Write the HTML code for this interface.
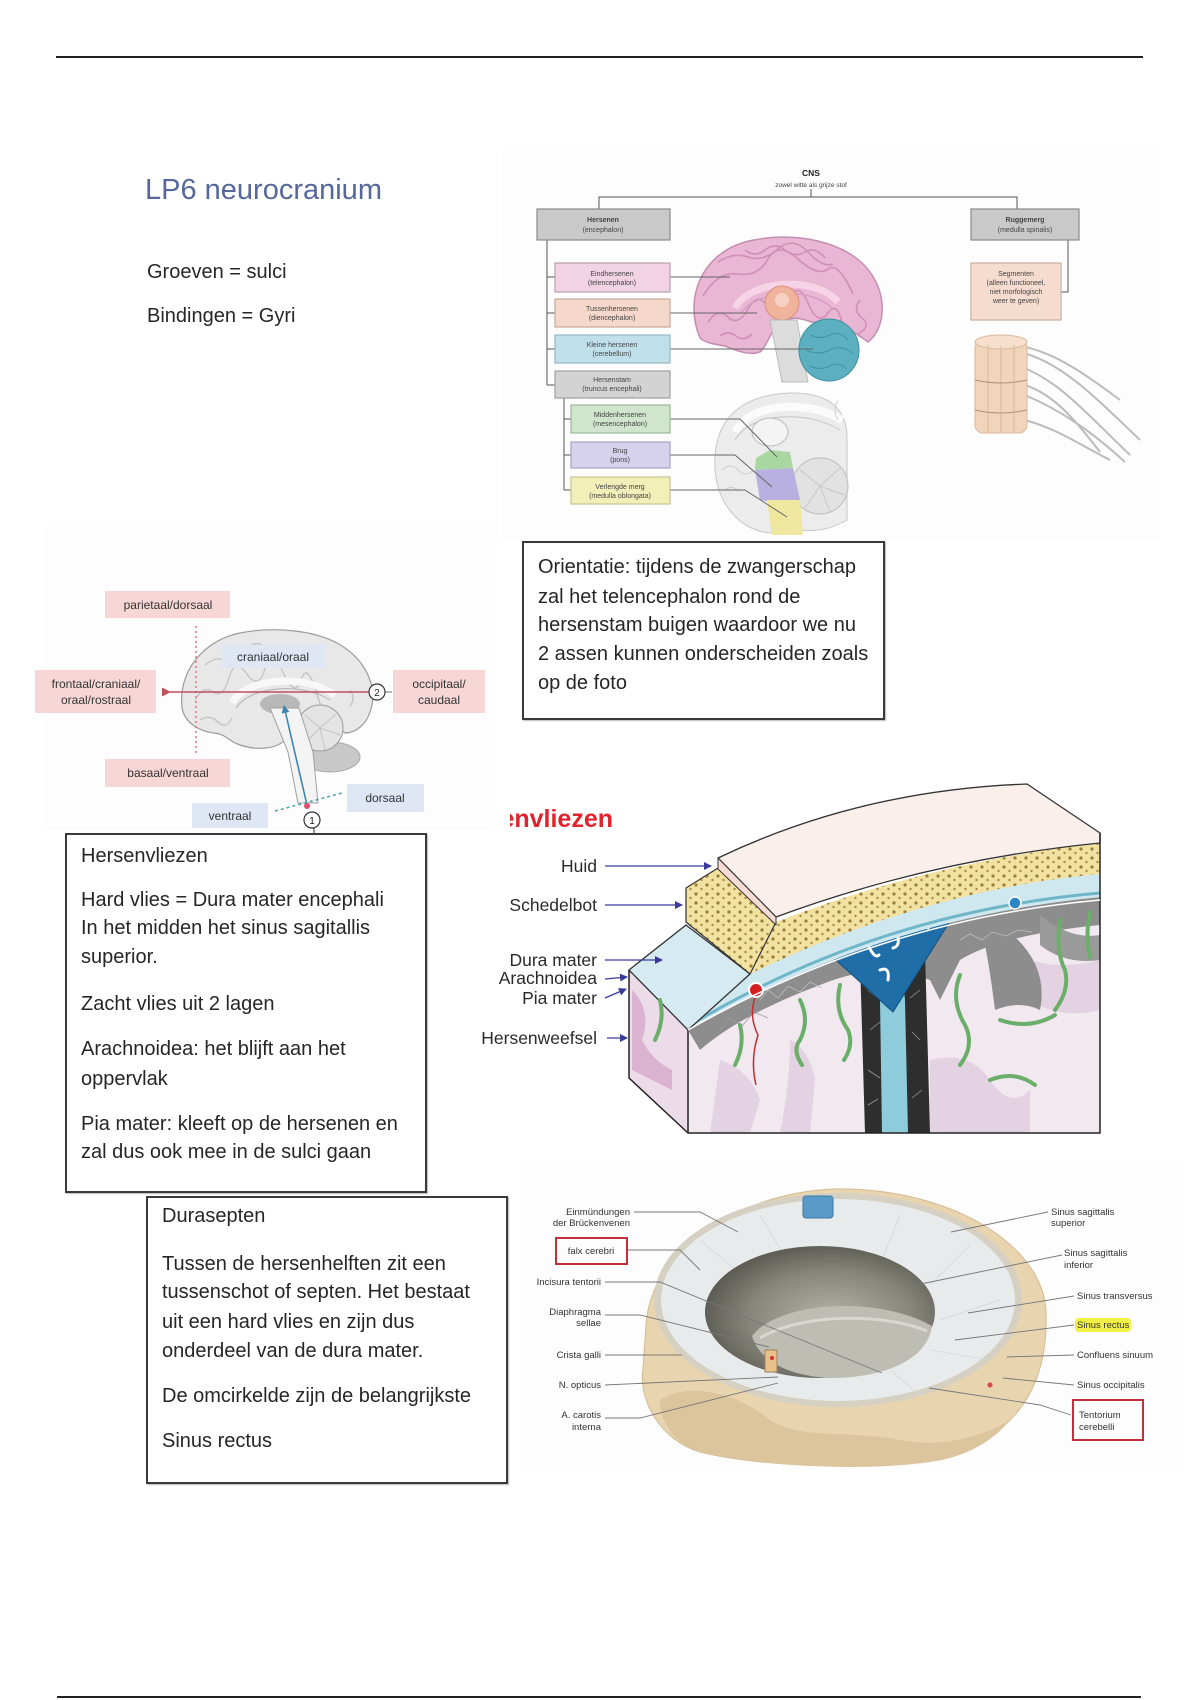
<!DOCTYPE html>
<html>
<head>
<meta charset="utf-8">
<style>
  html,body{margin:0;padding:0;background:#fff;}
  body{width:1200px;height:1700px;position:relative;overflow:hidden;font-family:"Liberation Sans",sans-serif;color:#262626;}
  .t{position:absolute;white-space:nowrap;font-size:20px;line-height:29px;}
  .box{position:absolute;border:2px solid #3a3a3a;background:#fff;box-sizing:border-box;box-shadow:1px 1px 1px #bbb;}
  .lbl{position:absolute;white-space:nowrap;font-size:17.5px;line-height:18px;color:#2a2a2a;text-align:right;}
</style>
</head>
<body>

<svg width="1200" height="1700" style="position:absolute;left:0;top:0" xmlns="http://www.w3.org/2000/svg" font-family="Liberation Sans, sans-serif">
  <defs>
    <pattern id="bone" width="11" height="9" patternUnits="userSpaceOnUse">
      <rect width="11" height="9" fill="#f2e2a2"/>
      <circle cx="3" cy="3" r="1.6" fill="#9a7d38"/>
      <circle cx="8.5" cy="7" r="1.2" fill="#a88a45"/>
    </pattern>
    <radialGradient id="hole" cx="0.55" cy="0.55" r="0.6">
      <stop offset="0" stop-color="#b4b4aa"/>
      <stop offset="0.6" stop-color="#85857b"/>
      <stop offset="1" stop-color="#55554d"/>
    </radialGradient>
    <marker id="arrB" markerWidth="8" markerHeight="8" refX="7" refY="4" orient="auto" markerUnits="userSpaceOnUse">
      <path d="M0,0 L8,4 L0,8 Z" fill="#3a3a9a"/>
    </marker>
    <marker id="arrR" markerWidth="9" markerHeight="9" refX="1" refY="4.5" orient="auto" markerUnits="userSpaceOnUse">
      <path d="M9,0 L0,4.5 L9,9 Z" fill="#c0505e"/>
    </marker>
    <marker id="arrBl" markerWidth="8" markerHeight="8" refX="7" refY="4" orient="auto" markerUnits="userSpaceOnUse">
      <path d="M0,0 L8,4 L0,8 Z" fill="#3e86b0"/>
    </marker>
  </defs>

  <!-- page rules -->
  <rect x="56" y="56" width="1087" height="2" fill="#222"/>
  <rect x="57" y="1696" width="1084" height="2" fill="#222"/>

  <!-- faint image backgrounds -->
  <rect x="502" y="146" width="659" height="395" fill="#fdfdfd"/>
  <rect x="43" y="526" width="451" height="305" fill="#fdfdfd"/>
  <rect x="521" y="1166" width="662" height="300" fill="#fdfdfd"/>

  <!-- ================= CNS diagram ================= -->
  <g>
    <path d="M700,338 C684,300 700,255 745,242 C790,230 850,240 872,275 C888,300 884,330 868,342 C860,336 848,328 838,325 L812,322 C800,318 792,316 782,322 C770,330 768,345 760,352 C748,356 735,350 725,346 C712,344 704,342 700,338 Z" fill="#e9b6d4" stroke="#c58db0" stroke-width="1.5"/>
    <g fill="none" stroke="#cf8fb6" stroke-width="1.6">
      <path d="M708,322 q10,-15 20,-5 t20,-8 t20,-2 t20,-6 t20,2 t20,10 t15,15"/>
      <path d="M703,296 q15,-25 35,-22 t30,-15 t30,0 t30,10 t25,25"/>
      <path d="M718,262 q15,-10 30,-5 t30,-8 t30,3 t25,12"/>
      <path d="M745,250 q10,8 20,0 t20,0 t20,2 t20,6"/>
      <path d="M860,300 q-8,10 2,18 t-4,16"/>
      <path d="M720,336 q8,-6 16,0 t16,-2"/>
    </g>
    <path d="M735,308 C750,280 815,275 838,302" fill="none" stroke="#f6d4e6" stroke-width="7"/>
    <path d="M742,312 C758,290 812,287 832,308" fill="none" stroke="#d59bbd" stroke-width="1.2"/>
    <circle cx="782" cy="303" r="17" fill="#f0b39c" stroke="#d88f7c"/>
    <circle cx="782" cy="300" r="7" fill="#f6d0c2"/>
    <polygon points="770,320 797,320 808,382 782,382" fill="#dcdcdc" stroke="#bdbdbd"/>
    <ellipse cx="829" cy="350" rx="30" ry="31" fill="#5cafbf" stroke="#3d8fa0"/>
    <g stroke="#3f93a4" stroke-width="1" fill="none">
      <path d="M810,335 q10,5 20,0 t18,5"/><path d="M806,350 q12,6 24,0 t24,4"/><path d="M810,366 q10,5 20,0 t16,3"/>
    </g>

    <!-- brainstem inset -->
    <path d="M715,470 C712,420 740,395 790,393 C830,392 848,410 847,440 L847,520 C830,530 815,532 800,530 L770,533 C740,530 718,505 715,470 Z" fill="#ececec" stroke="#c8c8c8"/>
    <path d="M735,432 C750,402 810,400 842,420" fill="none" stroke="#fbfbfb" stroke-width="8"/>
    <path d="M735,440 C750,412 808,410 840,430" fill="none" stroke="#c4c4c4" stroke-width="1"/>
    <ellipse cx="770" cy="432" rx="18" ry="14" fill="#f4f4f4" stroke="#bbb"/>
    <g fill="none" stroke="#cfcfcf" stroke-width="1"><path d="M722,470 q8,-8 16,0 t16,0"/><path d="M725,490 q8,-6 14,2"/><path d="M838,400 q-6,10 0,20"/></g>
    <circle cx="820" cy="486" r="28" fill="#e2e2e2" stroke="#bbb"/>
    <g stroke="#c8c8c8" stroke-width="1"><path d="M820,486 L800,470 M820,486 L840,468 M820,486 L845,495 M820,486 L805,508 M820,486 L830,512"/></g>
    <polygon points="756,458 770,450 790,452 793,468 755,470" fill="#a8d8a0"/>
    <polygon points="755,470 793,468 800,500 790,505 760,500" fill="#b8b0e0"/>
    <polygon points="767,500 800,500 803,535 772,535" fill="#efe6a0"/>

    <!-- spinal cord -->
    <g fill="none" stroke="#bcbcbc" stroke-width="2">
      <path d="M1015,345 C1050,350 1080,370 1120,400"/>
      <path d="M1020,352 C1060,362 1090,392 1140,440"/>
      <path d="M1022,367 C1060,382 1085,412 1130,455"/>
      <path d="M1025,395 C1060,410 1090,430 1125,462"/>
      <path d="M1025,420 C1060,430 1080,445 1110,460"/>
      <path d="M1025,385 C1055,395 1075,420 1100,452"/>
    </g>
    <rect x="975" y="340" width="52" height="93" rx="8" fill="#f1d4bc" stroke="#dcb89c"/>
    <ellipse cx="1001" cy="342" rx="26" ry="7" fill="#f6dfcc" stroke="#dcb89c"/>
    <g stroke="#e0bca0" stroke-width="1.2"><path d="M988,345 V433 M1001,346 V433 M1014,345 V433"/></g>
    <g fill="none" stroke="#b0907c" stroke-width="1"><path d="M975,380 Q1001,386 1027,380"/><path d="M975,410 Q1001,416 1027,410"/></g>

    <!-- connectors -->
    <g fill="none" stroke="#555" stroke-width="1">
      <path d="M811,189 V197 M599,209 V197 H1017 V209"/>
      <path d="M547,240 V385 M547,277 H555 M547,313 H555 M547,349 H555 M547,385 H555"/>
      <path d="M564,398 V490 M564,419 H571 M564,455 H571 M564,490 H571"/>
      <path d="M1068,240 V292 H1061"/>
    </g>
    <g fill="none" stroke="#666" stroke-width="1">
      <path d="M670,277 H730"/><path d="M670,313 H757"/><path d="M670,349 H813"/>
      <path d="M670,419 L740,419 L777,457"/><path d="M670,455 L735,455 L772,487"/><path d="M670,490 L745,490 L787,517"/>
    </g>

    <!-- boxes -->
    <g stroke-width="1.2">
      <rect x="537" y="209" width="133" height="31" fill="#c9c9c9" stroke="#8a8a8a"/>
      <rect x="971" y="209" width="108" height="31" fill="#c9c9c9" stroke="#8a8a8a"/>
      <rect x="555" y="263" width="115" height="29" fill="#f1d3e4" stroke="#b9a0b0"/>
      <rect x="555" y="299" width="115" height="28" fill="#f6d8cb" stroke="#c8aa9c"/>
      <rect x="555" y="335" width="115" height="28" fill="#bfe0ea" stroke="#95b8c2"/>
      <rect x="555" y="371" width="115" height="27" fill="#d3d3d3" stroke="#a0a0a0"/>
      <rect x="571" y="405" width="99" height="28" fill="#cfe6cc" stroke="#9cb898"/>
      <rect x="571" y="442" width="99" height="26" fill="#d6d2ee" stroke="#a8a2c8"/>
      <rect x="571" y="477" width="99" height="27" fill="#f2f0b8" stroke="#c8c490"/>
      <rect x="971" y="263" width="90" height="57" fill="#f6dccf" stroke="#c8b0a0"/>
    </g>
    <g font-size="7" fill="#444" text-anchor="middle">
      <text x="811" y="176" font-size="8.5" font-weight="bold" fill="#222">CNS</text>
      <text x="811" y="187" font-size="6.5">zowel witte als grijze stof</text>
      <text x="603" y="222" font-weight="bold">Hersenen</text><text x="603" y="232">(encephalon)</text>
      <text x="1025" y="222" font-weight="bold">Ruggemerg</text><text x="1025" y="232">(medulla spinalis)</text>
      <text x="612" y="276">Eindhersenen</text><text x="612" y="285">(telencephalon)</text>
      <text x="612" y="311">Tussenhersenen</text><text x="612" y="320">(diencephalon)</text>
      <text x="612" y="347">Kleine hersenen</text><text x="612" y="356">(cerebellum)</text>
      <text x="612" y="382">Hersenstam</text><text x="612" y="391">(truncus encephali)</text>
      <text x="620" y="417">Middenhersenen</text><text x="620" y="426">(mesencephalon)</text>
      <text x="620" y="453">Brug</text><text x="620" y="462">(pons)</text>
      <text x="620" y="489">Verlengde merg</text><text x="620" y="498">(medulla oblongata)</text>
      <text x="1016" y="276">Segmenten</text><text x="1016" y="285">(alleen functioneel,</text>
      <text x="1016" y="294">niet morfologisch</text><text x="1016" y="303">weer te geven)</text>
    </g>
  </g>

  <!-- ================= Orientation diagram ================= -->
  <g>
    <ellipse cx="330" cy="757" rx="30" ry="15" fill="#c8c8c8" stroke="#a8a8a8"/>
    <path d="M182,707 C178,670 205,640 240,633 C275,626 320,630 345,648 C368,664 378,690 370,712 C366,725 355,733 345,733 L330,720 C315,712 300,712 290,718 L285,740 C275,750 255,750 240,745 C228,741 226,734 214,733 C198,731 184,722 182,707 Z" fill="#e8e8e8" stroke="#9c9c9c" stroke-width="1.2"/>
    <g fill="none" stroke="#c2c2c2" stroke-width="1.3">
      <path d="M195,700 q8,-15 18,-8 t16,-14 t18,-4 t18,-6 t18,4 t18,8 t16,14 t10,12"/>
      <path d="M205,665 q12,-10 22,-4 t20,-10 t22,2 t20,8"/>
      <path d="M200,720 q10,-6 18,2 t14,-4"/>
      <path d="M350,690 q6,8 0,16"/>
    </g>
    <path d="M232,703 C245,678 305,673 335,695" fill="none" stroke="#f8f8f8" stroke-width="7"/>
    <path d="M236,708 C250,686 302,682 330,700" fill="none" stroke="#b0b0b0" stroke-width="1"/>
    <ellipse cx="280" cy="704" rx="20" ry="10" fill="#b8b8b8"/>
    <circle cx="320" cy="728" r="23" fill="#e4e4e4" stroke="#9c9c9c"/>
    <g stroke="#c4c4c4"><path d="M320,728 L305,715 M320,728 L336,714 M320,728 L340,735 M320,728 L306,742 M320,728 L325,750"/></g>
    <path d="M270,708 L299,708 L313,752 L318,803 L298,803 L288,752 Z" fill="#f4f4f4" stroke="#a0a0a0"/>

    <line x1="196" y1="626" x2="196" y2="753" stroke="#e07a88" stroke-width="1.6" stroke-dasharray="2,3"/>
    <line x1="369" y1="692" x2="170" y2="692" stroke="#c0505e" stroke-width="1.5" marker-end="url(#arrR)"/>
    <line x1="385" y1="692" x2="392" y2="692" stroke="#777" stroke-width="1"/>
    <line x1="307" y1="805" x2="284" y2="706" stroke="#3e86b0" stroke-width="1.6" marker-end="url(#arrBl)"/>
    <line x1="275" y1="811" x2="342" y2="793" stroke="#4aa0a8" stroke-width="1.5" stroke-dasharray="3,3"/>
    <circle cx="307" cy="806" r="3" fill="#e0506a"/>
    <circle cx="377" cy="692" r="8" fill="#fff" stroke="#333" stroke-width="1.2"/>
    <text x="377" y="696" font-size="10" text-anchor="middle" fill="#222">2</text>
    <circle cx="312" cy="820" r="8" fill="#fff" stroke="#333" stroke-width="1.2"/>
    <text x="312" y="824" font-size="10" text-anchor="middle" fill="#222">1</text>
    <line x1="314" y1="828" x2="314" y2="834" stroke="#333"/>

    <rect x="105" y="591" width="125" height="27" fill="#f7d7d6"/>
    <rect x="222" y="645" width="103" height="23" fill="#dfe6f4"/>
    <rect x="35" y="670" width="121" height="43" fill="#f7d7d6"/>
    <rect x="393" y="670" width="92" height="43" fill="#f7d7d6"/>
    <rect x="105" y="759" width="125" height="28" fill="#f7d7d6"/>
    <rect x="347" y="784" width="77" height="28" fill="#dfe6f4"/>
    <rect x="192" y="803" width="76" height="25" fill="#dfe6f4"/>
    <g font-size="12" fill="#333" text-anchor="middle">
      <text x="168" y="609">parietaal/dorsaal</text>
      <text x="273" y="661">craniaal/oraal</text>
      <text x="96" y="688">frontaal/craniaal/</text>
      <text x="96" y="704">oraal/rostraal</text>
      <text x="439" y="688">occipitaal/</text>
      <text x="439" y="704">caudaal</text>
      <text x="168" y="777">basaal/ventraal</text>
      <text x="385" y="802">dorsaal</text>
      <text x="230" y="820">ventraal</text>
    </g>
  </g>

  <!-- ================= Meninges block ================= -->
  <g stroke-linejoin="round">
    <path d="M688,1030 Q880,920 1100,900 L1100,1133 L688,1133 Z" fill="#f1e8f0"/>
    <g fill="#e3d3e2">
      <path d="M720,1060 q30,10 40,40 l-10,33 l-40,0 z"/>
      <path d="M930,1060 q40,-10 60,20 t40,10 l0,43 l-100,0 z"/>
      <path d="M1030,960 q30,10 70,0 l0,50 q-40,10 -70,-10 z"/>
      <path d="M790,1040 q20,10 25,40 l-5,53 l-30,0 q10,-50 10,-93 z"/>
    </g>
    <polygon points="629,970 688,1030 688,1133 629,1078" fill="#ecdbe8"/>
    <path d="M632,990 q20,20 10,50 q10,20 30,30 l0,20 l-40,-20 z" fill="#d9b3cf"/>
    <path d="M688,1030 Q880,918 1100,897 L1100,925 Q1000,935 960,960 L940,1000 L930,980 Q880,960 820,985 Q740,1015 700,1050 Z" fill="#8d8d8d"/>
    <path d="M1000,925 Q1050,960 1040,1010 Q1020,1000 995,1010 Q990,970 985,945 Z" fill="#8d8d8d"/>
    <path d="M1040,915 Q1070,940 1100,935 L1100,960 Q1065,965 1040,945 Z" fill="#9a9a9a"/>
    <path d="M860,960 L925,950 L930,1133 L865,1133 Z" fill="#2e2e2e"/>
    <g stroke="#9a9a9a" stroke-width="0.8" fill="none">
      <path d="M868,990 l12,10 M870,1030 l10,-8 M868,1070 l12,8 M868,1105 l10,-6 M920,990 l-10,8 M920,1040 l-8,-8 M922,1090 l-10,8"/>
      <path d="M720,1030 l10,-12 l12,8 l12,-14 l14,6 M900,935 l15,-8 l14,10"/>
    </g>
    <g stroke="#bdbdbd" stroke-width="0.8" fill="none">
      <path d="M760,1000 l8,-10 l10,8 l10,-12 l12,6 l10,-10 l12,6"/>
      <path d="M960,940 l10,-6 l12,6 l10,-8 l14,4 l12,-6 l14,2"/>
    </g>
    <path d="M870,930 Q890,960 880,1000 L882,1133 L908,1133 L905,1000 Q900,960 920,928 Z" fill="#8ecbdb"/>
    <polygon points="825,950 962,902 893,1012" fill="#1f6ea8" stroke="#0f4f80"/>
    <g fill="none" stroke="#fff" stroke-width="3" stroke-linecap="round">
      <path d="M855,945 q8,-10 14,2 t10,8"/><path d="M885,930 q8,-8 12,4 t-4,14"/><path d="M918,918 q10,-2 10,10"/><path d="M880,970 q10,-4 8,10"/>
    </g>
    <path d="M747,972 Q930,888 1100,872 L1100,897 Q880,918 688,1030 Z" fill="#cfe8ef"/>
    <path d="M692,1024 Q880,912 1100,893" fill="none" stroke="#6fb6c9" stroke-width="3"/>
    <polygon points="629,970 686,925 750,974 688,1030" fill="#d6ebf1" stroke="#333" stroke-width="1.3"/>
    <path d="M776,922 Q930,862 1100,843 L1100,874 Q925,890 750,974 Z" fill="url(#bone)"/>
    <polygon points="686,888 718,868 776,922 750,974 686,922" fill="url(#bone)" stroke="#333" stroke-width="1.2"/>
    <path d="M718,858 Q860,790 1027,784 L1100,833 L1100,843 Q930,860 776,917 Z" fill="#fbefeb" stroke="#333" stroke-width="1.3"/>
    <polygon points="718,858 718,869 776,925 776,917" fill="#f7dcd6" stroke="#333" stroke-width="1"/>
    <g fill="none" stroke="#6aae6a" stroke-width="4" stroke-linecap="round">
      <path d="M740,1025 q5,20 -5,40"/><path d="M800,1000 q10,20 0,40 q-8,10 2,25"/>
      <path d="M840,985 q-6,25 8,45 q6,15 -4,30"/><path d="M960,975 q-10,25 5,50 q10,20 -5,40"/>
      <path d="M1000,1020 q30,10 55,-5"/><path d="M1060,920 q-5,30 5,50 q5,20 -10,40"/>
      <path d="M1090,912 q-5,25 0,45"/><path d="M990,1080 q25,-10 45,5"/><path d="M660,1000 q5,20 -5,40"/>
    </g>
    <path d="M756,995 q-8,20 2,40 q-8,25 -2,50" fill="none" stroke="#c03030" stroke-width="1.5"/>
    <circle cx="756" cy="990" r="7" fill="#d42020" stroke="#fff" stroke-width="2"/>
    <circle cx="1015" cy="903" r="6" fill="#2a86c4" stroke="#fff" stroke-width="1.5"/>
    <path d="M629,970 L629,1078 L688,1133 L1100,1133 L1100,833 M688,1030 L688,1133" fill="none" stroke="#222" stroke-width="1.5"/>
    <path d="M688,1030 Q880,920 1100,900" fill="none" stroke="#fff" stroke-width="1.5"/>

    <g stroke="#3a3a9a" stroke-width="1.3" marker-end="url(#arrB)">
      <line x1="605" y1="866" x2="711" y2="866"/>
      <line x1="605" y1="905" x2="682" y2="905"/>
      <line x1="605" y1="960" x2="662" y2="960"/>
      <line x1="605" y1="979" x2="627" y2="977"/>
      <line x1="605" y1="998" x2="626" y2="989"/>
      <line x1="607" y1="1038" x2="627" y2="1038"/>
    </g>
  </g>

  <!-- ================= Skull / dura septen ================= -->
  <g>
    <path d="M646,1325 C652,1238 760,1186 850,1189 C960,1193 1042,1248 1046,1310 C1049,1382 1020,1432 950,1456 C880,1472 760,1467 700,1452 C660,1440 638,1400 643,1368 Z" fill="#e8d4ae" stroke="#d2bb92"/>
    <path d="M660,1400 C690,1380 740,1395 770,1420 C800,1440 850,1430 900,1440 C940,1448 980,1438 1010,1420 C990,1445 960,1458 930,1462 C860,1472 760,1466 700,1452 C672,1443 660,1420 660,1400 Z" fill="#dcc49c"/>
    <ellipse cx="838" cy="1300" rx="184" ry="107" fill="#d6d0c2"/>
    <ellipse cx="838" cy="1300" rx="177" ry="101" fill="#e7ebec"/>
    <g stroke="#d2d8da" stroke-width="0.8">
      <path d="M700,1240 L760,1290 M760,1215 L790,1265 M900,1215 L880,1265 M970,1245 L930,1285 M1000,1300 L940,1320 M990,1360 L930,1350 M920,1395 L890,1370"/>
    </g>
    <ellipse cx="820" cy="1312" rx="115" ry="66" fill="url(#hole)"/>
    <path d="M752,1336 C780,1300 880,1296 932,1326 C927,1362 880,1378 830,1378 C790,1376 760,1362 752,1336 Z" fill="#bdbdb3"/>
    <path d="M760,1338 C800,1314 880,1312 927,1331" fill="none" stroke="#d8d8d0" stroke-width="3"/>
    <rect x="803" y="1196" width="30" height="22" rx="3" fill="#5a9ac8" stroke="#3d7aa8"/>
    <rect x="765" y="1350" width="12" height="22" fill="#e8c08a" stroke="#a08060"/>
    <circle cx="772" cy="1358" r="2" fill="#d03030"/>
    <circle cx="990" cy="1385" r="2.5" fill="#e04050"/>

    <g stroke="#777" stroke-width="0.9" fill="none">
      <path d="M634,1212 L700,1212 L738,1232"/>
      <path d="M627,1250 L680,1250 L700,1270"/>
      <path d="M605,1282 L660,1282 L882,1373"/>
      <path d="M605,1315 L640,1315 L769,1347"/>
      <path d="M605,1355 L682,1355"/>
      <path d="M605,1385 L778,1377"/>
      <path d="M605,1418 L640,1418 L778,1383"/>
      <path d="M1048,1212 L951,1232"/>
      <path d="M1062,1255 L916,1285"/>
      <path d="M1074,1296 L968,1313"/>
      <path d="M1074,1325 L955,1340"/>
      <path d="M1074,1355 L1007,1357"/>
      <path d="M1074,1385 L1003,1378"/>
      <path d="M1071,1415 L1040,1405 L929,1388"/>
    </g>
    <rect x="556" y="1238" width="71" height="26" fill="none" stroke="#c0303a" stroke-width="2"/>
    <rect x="1073" y="1400" width="70" height="40" fill="none" stroke="#c0303a" stroke-width="2"/>
    <rect x="1075" y="1318" width="56" height="14" rx="4" fill="#f2f044"/>
    <g font-size="9.5" fill="#333">
      <g text-anchor="end">
        <text x="630" y="1215">Einmündungen</text>
        <text x="630" y="1226">der Brückenvenen</text>
        <text x="591" y="1254" text-anchor="middle">falx cerebri</text>
        <text x="601" y="1285">Incisura tentorii</text>
        <text x="601" y="1315">Diaphragma</text>
        <text x="601" y="1326">sellae</text>
        <text x="601" y="1358">Crista galli</text>
        <text x="601" y="1388">N. opticus</text>
        <text x="601" y="1418">A. carotis</text>
        <text x="601" y="1430">interna</text>
      </g>
      <text x="1051" y="1215">Sinus sagittalis</text>
      <text x="1051" y="1226">superior</text>
      <text x="1064" y="1256">Sinus sagittalis</text>
      <text x="1064" y="1268">inferior</text>
      <text x="1077" y="1299">Sinus transversus</text>
      <text x="1077" y="1328">Sinus rectus</text>
      <text x="1077" y="1358">Confluens sinuum</text>
      <text x="1077" y="1388">Sinus occipitalis</text>
      <text x="1079" y="1418">Tentorium</text>
      <text x="1079" y="1430">cerebelli</text>
    </g>
  </g>
</svg>

<div class="t" style="left:145px;top:171px;font-size:29px;line-height:38px;color:#56679b;">LP6 neurocranium</div>
<div class="t" style="left:147px;top:258px;">Groeven = sulci</div>
<div class="t" style="left:147px;top:302px;">Bindingen = Gyri</div>

<div class="box" style="left:522px;top:541px;width:363px;height:179px;"></div>
<div class="t" style="left:538px;top:553px;">Orientatie: tijdens de zwangerschap</div>
<div class="t" style="left:538px;top:583px;">zal het telencephalon rond de</div>
<div class="t" style="left:538px;top:611px;">hersenstam buigen waardoor we nu</div>
<div class="t" style="left:538px;top:640px;">2 assen kunnen onderscheiden zoals</div>
<div class="t" style="left:538px;top:669px;">op de foto</div>

<div class="box" style="left:65px;top:833px;width:362px;height:360px;"></div>
<div class="t" style="left:81px;top:842px;">Hersenvliezen</div>
<div class="t" style="left:81px;top:886px;">Hard vlies = Dura mater encephali</div>
<div class="t" style="left:81px;top:914px;">In het midden het sinus sagitallis</div>
<div class="t" style="left:81px;top:943px;">superior.</div>
<div class="t" style="left:81px;top:990px;">Zacht vlies uit 2 lagen</div>
<div class="t" style="left:81px;top:1035px;">Arachnoidea: het blijft aan het</div>
<div class="t" style="left:81px;top:1065px;">oppervlak</div>
<div class="t" style="left:81px;top:1110px;">Pia mater: kleeft op de hersenen en</div>
<div class="t" style="left:81px;top:1138px;">zal dus ook mee in de sulci gaan</div>

<div class="box" style="left:146px;top:1196px;width:362px;height:288px;"></div>
<div class="t" style="left:162px;top:1202px;">Durasepten</div>
<div class="t" style="left:162px;top:1250px;">Tussen de hersenhelften zit een</div>
<div class="t" style="left:162px;top:1278px;">tussenschot of septen. Het bestaat</div>
<div class="t" style="left:162px;top:1308px;">uit een hard vlies en zijn dus</div>
<div class="t" style="left:162px;top:1337px;">onderdeel van de dura mater.</div>
<div class="t" style="left:162px;top:1382px;">De omcirkelde zijn de belangrijkste</div>
<div class="t" style="left:162px;top:1427px;">Sinus rectus</div>

<div style="position:absolute;left:510px;top:802px;width:103px;height:34px;overflow:hidden;">
  <div style="position:absolute;right:0;top:0;white-space:nowrap;font-weight:bold;font-size:25px;line-height:34px;color:#e3222c;">Hersenvliezen</div>
</div>
<div class="lbl" style="right:603px;top:857px;">Huid</div>
<div class="lbl" style="right:603px;top:896px;">Schedelbot</div>
<div class="lbl" style="right:603px;top:951px;">Dura mater</div>
<div class="lbl" style="right:603px;top:969px;">Arachnoidea</div>
<div class="lbl" style="right:603px;top:989px;">Pia mater</div>
<div class="lbl" style="right:603px;top:1029px;">Hersenweefsel</div>

</body>
</html>
